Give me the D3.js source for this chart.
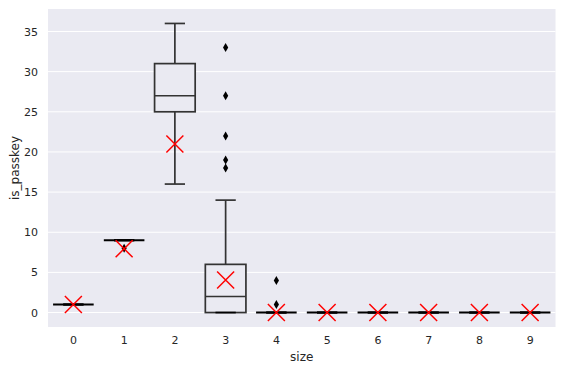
<!DOCTYPE html>
<html>
<head>
<meta charset="utf-8">
<script src="https://cdn.jsdelivr.net/npm/d3@7"></script>
<style>
  body { margin: 0; background: #fff; }
  text { font-family: "DejaVu Sans", sans-serif; fill: #262626; }
</style>
</head>
<body>
<div id="chart"></div>
<script>
const W = 566, H = 366;
const margin = {top: 9, right: 10.5, bottom: 39, left: 48};

// data
const sizes = ["0", "1", "2", "3", "4", "5", "6", "7", "8", "9"];
const whiskerLow  = [1, 9, 16, 0, 0, 0, 0, 0, 0, 0];
const q1          = [1, 9, 25, 0, 0, 0, 0, 0, 0, 0];
const medians     = [1, 9, 27, 2, 0, 0, 0, 0, 0, 0];
const q3          = [1, 9, 31, 6, 0, 0, 0, 0, 0, 0];
const whiskerHigh = [1, 9, 36, 14, 0, 0, 0, 0, 0, 0];
const means       = [1, 7.94, 21, 4.05, 0, 0, 0, 0, 0, 0];
const outliers    = [[], [8], [], [18, 19, 22, 27, 33], [1, 4], [], [], [], [], []];
const yTicks = [0, 5, 10, 15, 20, 25, 30, 35];

const svg = d3.select("#chart").append("svg")
    .attr("width", W)
    .attr("height", H);

const x = d3.scaleBand()
    .domain(sizes)
    .range([margin.left, W - margin.right])
    .padding(0);

const y = d3.scaleLinear()
    .domain([-1.8, 37.8])
    .range([H - margin.bottom, margin.top]);

// background
svg.append("rect")
    .attr("x", margin.left)
    .attr("y", margin.top)
    .attr("width", W - margin.left - margin.right)
    .attr("height", H - margin.top - margin.bottom)
    .attr("fill", "#eaeaf2");

// grid
svg.append("g")
    .selectAll("line")
    .data(yTicks)
    .enter()
    .append("line")
        .attr("x1", margin.left)
        .attr("x2", W - margin.right)
        .attr("y1", d => y(d))
        .attr("y2", d => y(d))
        .attr("stroke", "#fff")
        .attr("stroke-width", 1);

// axes (labels only, seaborn darkgrid has no tick marks)
const yAxis = svg.append("g")
    .attr("transform", "translate(" + margin.left + ",0)")
    .call(d3.axisLeft(y).tickValues(yTicks).tickSize(0).tickPadding(10));
yAxis.select(".domain").remove();
yAxis.selectAll("text").attr("font-size", "11px").attr("font-family", "DejaVu Sans").attr("fill", "#262626");

const xAxis = svg.append("g")
    .attr("transform", "translate(0," + (H - margin.bottom) + ")")
    .call(d3.axisBottom(x).tickSize(0).tickPadding(9));
xAxis.select(".domain").remove();
xAxis.selectAll("text").attr("font-size", "11px").attr("font-family", "DejaVu Sans").attr("fill", "#262626");

svg.append("text")
    .attr("x", margin.left + (W - margin.left - margin.right) / 2)
    .attr("y", 361)
    .attr("text-anchor", "middle")
    .attr("font-size", "12px")
    .text("size");

svg.append("text")
    .attr("transform", "translate(19," + (margin.top + (H - margin.top - margin.bottom) / 2) + ") rotate(-90)")
    .attr("text-anchor", "middle")
    .attr("font-size", "12px")
    .text("is_passkey");

// boxes
const boxW = x.bandwidth() * 0.8;
const capW = boxW / 2;
const gray = "#333";

sizes.forEach((s, i) => {
    const cx = x(s) + x.bandwidth() / 2;
    const g = svg.append("g");
    const flat = q1[i] === q3[i];
    const col = flat ? "#000" : gray;
    const lw = flat ? 2 : 1.7;

    // whiskers
    if (whiskerLow[i] < q1[i]) {
        g.append("line").attr("x1", cx).attr("x2", cx)
            .attr("y1", y(q1[i])).attr("y2", y(whiskerLow[i]))
            .attr("stroke", gray).attr("stroke-width", lw);
    }
    if (whiskerHigh[i] > q3[i]) {
        g.append("line").attr("x1", cx).attr("x2", cx)
            .attr("y1", y(q3[i])).attr("y2", y(whiskerHigh[i]))
            .attr("stroke", gray).attr("stroke-width", lw);
    }
    // box
    g.append("rect")
        .attr("x", cx - boxW / 2)
        .attr("width", boxW)
        .attr("y", y(q3[i]))
        .attr("height", Math.max(0, y(q1[i]) - y(q3[i])))
        .attr("fill", "#eaeaf2")
        .attr("stroke", col)
        .attr("stroke-width", lw);
    // median
    g.append("line")
        .attr("x1", cx - boxW / 2).attr("x2", cx + boxW / 2)
        .attr("y1", y(medians[i])).attr("y2", y(medians[i]))
        .attr("stroke", col).attr("stroke-width", lw);
    // caps
    [whiskerLow[i], whiskerHigh[i]].forEach(v => {
        g.append("line")
            .attr("x1", cx - capW / 2).attr("x2", cx + capW / 2)
            .attr("y1", y(v)).attr("y2", y(v))
            .attr("stroke", (flat || v === q1[i]) ? "#000" : gray).attr("stroke-width", lw);
    });
    // outliers (thin diamonds)
    g.selectAll("path.flier")
        .data(outliers[i])
        .enter()
        .append("path")
            .attr("class", "flier")
            .attr("d", d => {
                const yy = y(d);
                return "M" + cx + "," + (yy - 4.5) + "L" + (cx + 2.6) + "," + yy +
                       "L" + cx + "," + (yy + 4.5) + "L" + (cx - 2.6) + "," + yy + "Z";
            })
            .attr("fill", "#000");
});

// means as red x markers
const m = 8.5;
svg.append("g")
    .selectAll("path")
    .data(means)
    .enter()
    .append("path")
        .attr("d", (d, i) => {
            const cx = x(sizes[i]) + x.bandwidth() / 2, cy = y(d);
            return "M" + (cx - m) + "," + (cy - m) + "L" + (cx + m) + "," + (cy + m) +
                   "M" + (cx - m) + "," + (cy + m) + "L" + (cx + m) + "," + (cy - m);
        })
        .attr("stroke", "red")
        .attr("stroke-width", 1.5)
        .attr("fill", "none");
</script>
</body>
</html>
